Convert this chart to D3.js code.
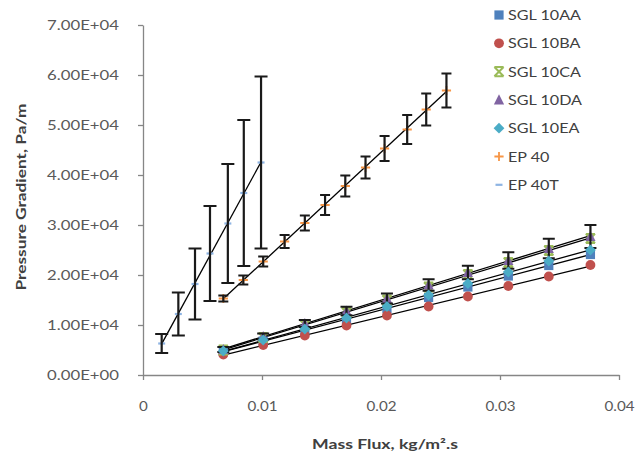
<!DOCTYPE html>
<html><head><meta charset="utf-8">
<script src="https://cdn.jsdelivr.net/npm/d3@7"></script>
<style>body{margin:0;background:#fff;}svg{display:block;}</style>
</head><body>
<svg id="c" width="635" height="457"></svg>
<script>
// ---------- data ----------
const seriesNames = ["SGL 10AA","SGL 10BA","SGL 10CA","SGL 10DA","SGL 10EA","EP 40","EP 40T"];
const massFluxSGL = [0.00675,0.0101,0.0136,0.0171,0.0205,0.0240,0.0273,0.0307,0.0341,0.0376];
const sgl10AA = [4700,6800,9000,11100,13300,15500,17600,19800,21900,24100];
const sgl10BA = [4100,6000,7900,9900,11900,13700,15700,17800,19700,22000];
const sgl10CA = [5000,7500,10000,12500,15000,17600,20100,22500,24900,27300];
const sgl10DA = [5100,7700,10300,12800,15300,18000,20500,22900,25300,27700];
const sgl10DAerr = [500,600,700,850,1000,1150,1350,1650,1950,2300];
const sgl10EA = [4800,7000,9200,11400,13700,16000,18300,20600,22800,25000];
const massFluxEP40 = [0.00675,0.00843,0.0101,0.0119,0.0136,0.0153,0.0170,0.0187,0.0203,0.0222,0.0238,0.0255];
const ep40 = [15300,19000,22700,26700,30400,34000,37800,41500,45300,49100,53100,56900];
const ep40err = [600,900,1000,1300,1500,2000,2100,2200,2500,2900,3200,3400];
const massFluxEP40T = [0.00157,0.00297,0.00437,0.00563,0.00713,0.00847,0.00992];
const ep40T = [6300,12200,18200,24300,30300,36400,42500];
const ep40Terr = [1900,4300,7100,9500,11900,14600,17200];
const xTickValues = [0,0.01,0.02,0.03,0.04];
const xTickLabels = ["0","0.01","0.02","0.03","0.04"];
const yTickValues = [0,10000,20000,30000,40000,50000,60000,70000];
const yTickLabels = ["0.00E+00","1.00E+04","2.00E+04","3.00E+04","4.00E+04","5.00E+04","6.00E+04","7.00E+04"];

// ---------- layout ----------
const X0=143, X1=619, Y0=375, Y1=25;
const FONT="Lato, 'Open Sans', sans-serif";
const x=d3.scaleLinear().domain([0,0.04]).range([X0,X1]);
const y=d3.scaleLinear().domain([0,70000]).range([Y0,Y1]);
const svg=d3.select('#c');

const colors={"SGL 10AA":"#4F81BD","SGL 10BA":"#C0504D","SGL 10CA":"#9BBB59","SGL 10DA":"#8064A2","SGL 10EA":"#4BACC6","EP 40":"#F79646","EP 40T":"#8EB4E3"};
const shapes={"SGL 10AA":"square","SGL 10BA":"circle","SGL 10CA":"x","SGL 10DA":"triangle","SGL 10EA":"diamond","EP 40":"plus","EP 40T":"dash"};

function marker(g,name,cx,cy){
  const c=colors[name], t=shapes[name], s=4.6;
  if(t==="square") g.append('rect').attr('x',cx-s).attr('y',cy-s).attr('width',2*s).attr('height',2*s).attr('fill',c);
  else if(t==="circle") g.append('circle').attr('cx',cx).attr('cy',cy).attr('r',s+0.3).attr('fill',c);
  else if(t==="triangle") g.append('path').attr('d',`M${cx},${cy-s-1}L${cx+s+0.5},${cy+s}L${cx-s-0.5},${cy+s}Z`).attr('fill',c);
  else if(t==="diamond") g.append('path').attr('d',`M${cx},${cy-s-0.8}L${cx+s+0.8},${cy}L${cx},${cy+s+0.8}L${cx-s-0.8},${cy}Z`).attr('fill',c);
  else if(t==="x") g.append('path').attr('d',`M${cx-s},${cy-s}H${cx+s}M${cx-s},${cy+s}H${cx+s}M${cx-s},${cy-s}L${cx+s},${cy+s}M${cx+s},${cy-s}L${cx-s},${cy+s}`).attr('stroke',c).attr('stroke-width',2).attr('fill','none');
  else if(t==="plus") g.append('path').attr('d',`M${cx-s},${cy}H${cx+s}M${cx},${cy-s}V${cy+s}`).attr('stroke',c).attr('stroke-width',1.8).attr('fill','none');
  else if(t==="dash") g.append('path').attr('d',`M${cx-3.5},${cy}H${cx+3.5}`).attr('stroke',c).attr('stroke-width',2.2);
}

// horizontally scale a group of texts so that a reference label has the target width
function fitTexts(sel, refIndex, target){
  const nodes=sel.nodes();
  const w=nodes[refIndex].getComputedTextLength();
  const k=target/w;
  sel.each(function(){
    const t=d3.select(this);
    const x0=+(t.attr('x')||0);
    t.attr('x',x0/k).attr('transform',`scale(${k},1)`);
  });
}

// ---------- axes ----------
const gy=svg.append('g').attr('transform',`translate(${X0},0)`)
  .call(d3.axisLeft(y).tickValues(yTickValues).tickFormat((d,i)=>yTickLabels[i]).tickSize(5).tickSizeOuter(0).tickPadding(19));
const gx=svg.append('g').attr('transform',`translate(0,${Y0})`)
  .call(d3.axisBottom(x).tickValues(xTickValues).tickFormat((d,i)=>xTickLabels[i]).tickSize(5).tickSizeOuter(0).tickPadding(22));
[gx,gy].forEach(g=>{
  g.select('.domain').attr('stroke','#868686').attr('stroke-width',1.3);
  g.selectAll('.tick line').attr('stroke','#868686').attr('stroke-width',1.3);
  g.selectAll('.tick text').attr('fill','#595959').attr('font-family',FONT).attr('font-size',12.5);
});
fitTexts(gy.selectAll('.tick text'),0,72);
fitTexts(gx.selectAll('.tick text'),4,30);

const xt=svg.append('text').attr('text-anchor','middle')
  .attr('font-family',FONT).attr('font-size',13.5).attr('font-weight','bold').attr('fill','#404040')
  .text('Mass Flux, kg/m\u00B2.s');
const kx=146/xt.node().getComputedTextLength();
xt.attr('transform',`translate(385,449) scale(${kx},1)`);
const yt=svg.append('text').attr('text-anchor','middle')
  .attr('font-family',FONT).attr('font-size',14).attr('font-weight','bold').attr('fill','#404040')
  .text('Pressure Gradient, Pa/m');
const ky=187/yt.node().getComputedTextLength();
yt.attr('transform',`translate(26,197) rotate(-90) scale(${ky},1)`);

// ---------- data marks ----------
const all=[
  {name:"SGL 10AA",xs:massFluxSGL,ys:sgl10AA},
  {name:"SGL 10BA",xs:massFluxSGL,ys:sgl10BA},
  {name:"SGL 10CA",xs:massFluxSGL,ys:sgl10CA},
  {name:"SGL 10DA",xs:massFluxSGL,ys:sgl10DA,err:sgl10DAerr,cap:6},
  {name:"SGL 10EA",xs:massFluxSGL,ys:sgl10EA},
  {name:"EP 40",xs:massFluxEP40,ys:ep40,err:ep40err,cap:5},
  {name:"EP 40T",xs:massFluxEP40T,ys:ep40T,err:ep40Terr,cap:6.5}
];
function linreg(xs,ys){
  const mx=d3.mean(xs),my=d3.mean(ys);
  let num=0,den=0; xs.forEach((v,i)=>{num+=(v-mx)*(ys[i]-my);den+=(v-mx)*(v-mx);});
  const b=num/den; return v=>my+b*(v-mx);
}
const gTrend=svg.append('g');
all.forEach(s=>{
  const f=linreg(s.xs,s.ys), a=d3.min(s.xs), b=d3.max(s.xs);
  gTrend.append('line').attr('x1',x(a)).attr('y1',y(f(a))).attr('x2',x(b)).attr('y2',y(f(b)))
    .attr('stroke','#000').attr('stroke-width',1.3);
});
all.forEach(s=>{
  const g=svg.append('g');
  s.xs.forEach((v,i)=>marker(g,s.name,x(v),y(s.ys[i])));
  if(s.err){
    const ge=svg.append('g').attr('stroke','#1a1a1a').attr('stroke-width',2.2).attr('fill','none');
    s.xs.forEach((v,i)=>{
      const cx=x(v), top=y(s.ys[i]+s.err[i]), bot=y(s.ys[i]-s.err[i]);
      ge.append('path').attr('d',`M${cx},${top}V${bot}M${cx-s.cap},${top}H${cx+s.cap}M${cx-s.cap},${bot}H${cx+s.cap}`);
    });
  }
});

// ---------- legend ----------
const lg=svg.append('g');
const legTexts=[];
seriesNames.forEach((n,i)=>{
  const cy=15+i*28.3;
  marker(lg,n,499,cy);
  legTexts.push(lg.append('text').attr('transform',`translate(508,${cy+5})`)
    .attr('font-family',FONT).attr('font-size',14).attr('fill','#404040').text(n));
});
const kl=73/legTexts[0].node().getComputedTextLength();
legTexts.forEach((t,i)=>t.attr('transform',`translate(508,${15+i*28.3+5}) scale(${kl},1)`));
</script>
</body></html>
